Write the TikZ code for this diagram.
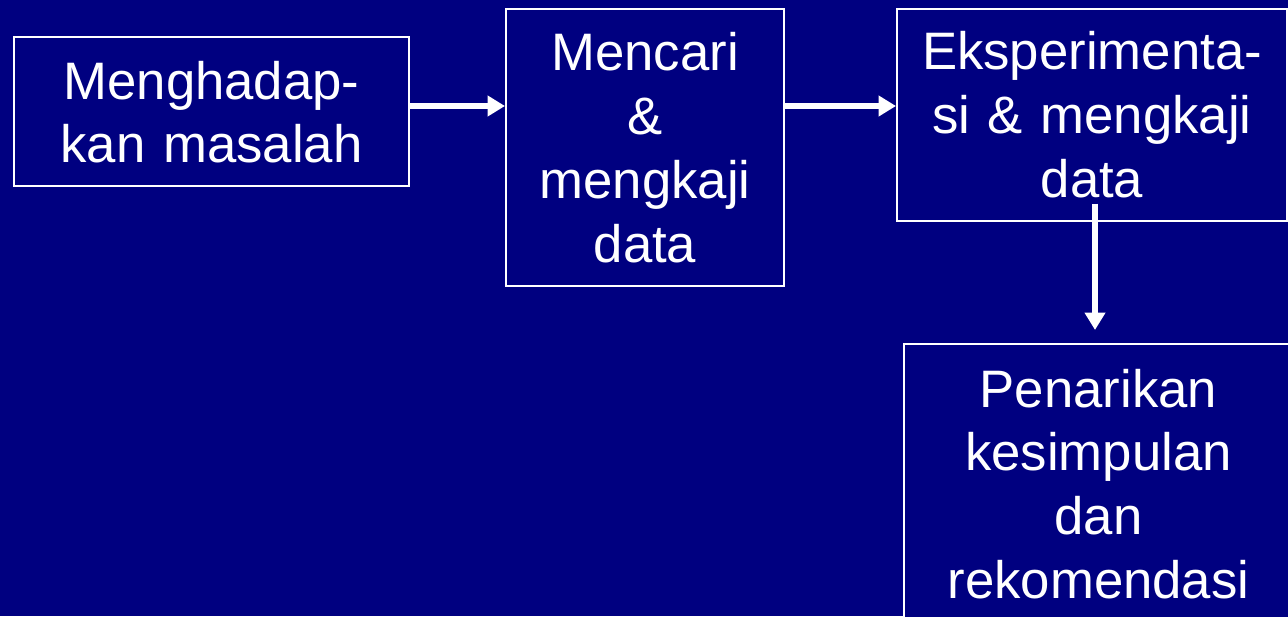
\documentclass[tikz,border=0pt]{standalone}
\usepackage{fontspec}
\setmainfont{Liberation Sans}
\usetikzlibrary{arrows.meta,calc}
\definecolor{slideblue}{RGB}{0,0,128}
\begin{document}
\begin{tikzpicture}[
  box/.style={draw=white, line width=0.04cm, fill=slideblue, text=white, inner sep=0pt,
    anchor=north west, align=center, font=\fontsize{30}{36.4}\selectfont},
  flow/.style={white, line width=0.12cm, -{Triangle[length=0.35cm,width=0.4cm]}}
]
\path[use as bounding box, fill=slideblue] (0,0) rectangle (25.76,-12.32);

\node[box, text width=7.9cm, text height=1.24cm, text depth=1.74cm] (b1) at (0.26,-0.72) {Menghadap-\\kan masalah};
\node[box, text width=5.56cm, text height=1.24cm, text depth=4.30cm] (b2) at (10.1,-0.15) {Mencari\\\&\\mengkaji\\data};
\node[box, text width=7.8cm, text height=1.22cm, text depth=3.02cm] (b3) at (17.92,-0.15) {Eksperimenta-\\si \& mengkaji\\data};
\node[box, text width=7.78cm, text height=1.26cm, text depth=4.8cm] (b4) at (18.06,-6.86) {Penarikan\\kesimpulan\\dan\\rekomendasi};

\coordinate (row) at (0,-2.12);
\draw[flow] (b1.east |- row) -- (b2.west |- row);
\draw[flow] (b2.east |- row) -- (b3.west |- row);
\draw[flow] ($(b3.south -| 21.9,0)+(0,0.36)$) -- ($(b4.north -| 21.9,0)+(0,0.26)$);
\end{tikzpicture}
\end{document}
